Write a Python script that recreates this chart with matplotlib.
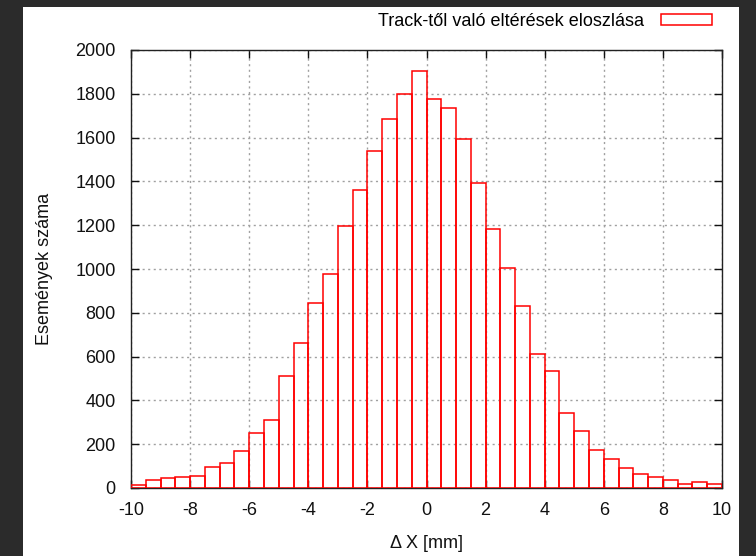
import matplotlib.pyplot as plt
from matplotlib.patches import Rectangle, Patch
import numpy as np

plt.rcParams['font.family'] = ['Liberation Sans', 'DejaVu Sans']
plt.rcParams['axes.unicode_minus'] = False

# histogram of deviations from the track, 0.5 mm bins between -10 and 10
bin_width = 0.5
bin_left = np.linspace(-10, 9.5, 40)
counts = [15, 37, 46, 51, 55, 98, 115, 167, 252, 309,
          511, 664, 847, 978, 1195, 1361, 1540, 1687, 1798, 1903,
          1775, 1734, 1594, 1393, 1182, 1003, 829, 610, 533, 344,
          260, 173, 132, 93, 62, 52, 36, 19, 26, 19]

x_ticks = [-10, -8, -6, -4, -2, 0, 2, 4, 6, 8, 10]
y_ticks = [0, 200, 400, 600, 800, 1000, 1200, 1400, 1600, 1800, 2000]

legend_label = 'Track-től való eltérések eloszlása'
xlab = 'Δ X [mm]'
ylab = 'Események száma'

W, H = 756, 556
fig = plt.figure(figsize=(W / 100, H / 100), dpi=100, facecolor='#2b2b2b')
# white canvas sitting on the dark background
fig.patches.append(Rectangle((23 / W, 0), (739 - 23) / W, 1 - 7 / H,
                             transform=fig.transFigure, facecolor='white',
                             edgecolor='none', zorder=-10))

ax = fig.add_axes([131 / W, 1 - 488 / H, (722 - 131) / W, (488 - 50) / H])
ax.set_facecolor('white')

ax.bar(bin_left, counts, width=bin_width, align='edge', fill=False,
       edgecolor='#ff0000', linewidth=1.1, zorder=3)

ax.set_xlim(-10, 10)
ax.set_ylim(0, 2000)
ax.set_xticks(x_ticks)
ax.set_yticks(y_ticks)
ax.grid(True, linestyle=(0, (1.5, 2.5)), color='#a0a0a0', linewidth=1.0, zorder=1)
ax.set_axisbelow(True)

ax.tick_params(direction='in', length=6, width=1, top=True, right=True,
               labelsize=13, colors='#111111')
ax.tick_params(axis='y', pad=11)
ax.tick_params(axis='x', pad=10)
for s in ax.spines.values():
    s.set_linewidth(1.0)
    s.set_color('#222222')

ax.set_xlabel(xlab, fontsize=13, color='#111111', va='center')
ax.set_ylabel(ylab, fontsize=13, color='#111111', va='center')
ax.xaxis.set_label_coords(0.5, -(543 - 488) / (488 - 50))
ax.yaxis.set_label_coords(-(131 - 45) / (722 - 131), 0.5)

handle = Patch(facecolor='white', edgecolor='#ff0000', linewidth=1.1)
ax.legend([handle], [legend_label], loc='center right',
          bbox_to_anchor=(712 / W, 1 - 21.5 / H), bbox_transform=fig.transFigure,
          frameon=False, markerfirst=False, fontsize=13, borderpad=0,
          borderaxespad=0, handlelength=2.8, handleheight=0.5, handletextpad=0.95)

fig.savefig('out.png', dpi=100, facecolor=fig.get_facecolor())
